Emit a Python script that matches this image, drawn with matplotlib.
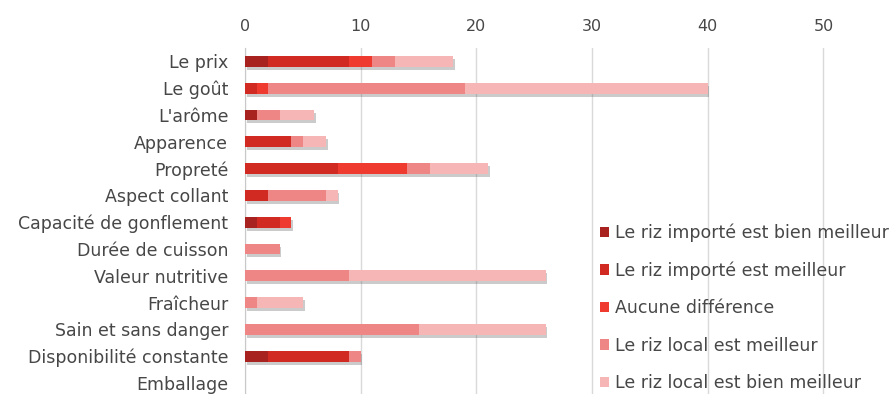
import numpy as np
import matplotlib.pyplot as plt
import matplotlib.patheffects as pe

plt.rcParams['font.family'] = ['DejaVu Sans']

criteres = ['Le prix', 'Le goût', "L'arôme", 'Apparence', 'Propreté', 'Aspect collant',
            'Capacité de gonflement', 'Durée de cuisson', 'Valeur nutritive', 'Fraîcheur',
            'Sain et sans danger', 'Disponibilité constante', 'Emballage']

importe_bien_meilleur = [2, 0, 1, 0, 0, 0, 1, 0, 0, 0, 0, 2, 0]
importe_meilleur      = [7, 1, 0, 4, 8, 2, 2, 0, 0, 0, 0, 7, 0]
aucune_difference     = [2, 1, 0, 0, 6, 0, 1, 0, 0, 0, 0, 0, 0]
local_meilleur        = [2, 17, 2, 1, 2, 5, 0, 3, 9, 1, 15, 1, 0]
local_bien_meilleur   = [5, 21, 3, 2, 5, 1, 0, 0, 17, 4, 11, 0, 0]

series = [importe_bien_meilleur, importe_meilleur, aucune_difference,
          local_meilleur, local_bien_meilleur]
noms = ['Le riz importé est bien meilleur', 'Le riz importé est meilleur',
        'Aucune différence', 'Le riz local est meilleur', 'Le riz local est bien meilleur']
couleurs = ['#a82220', '#d02a22', '#ee3a2f', '#ee8686', '#f6b6b6']
gris = '#474747'

fig = plt.figure(figsize=(8.9, 3.94), dpi=100)
ax = fig.add_axes([245 / 890, -0.006, 1 - 245 / 890, (394 - 48) / 394 + 0.006])

y = np.arange(len(criteres))
left = np.zeros(len(criteres))
ombre = [pe.SimplePatchShadow(offset=(1.2, -2.2), shadow_rgbFace='#555555', alpha=0.3), pe.Normal()]
for vals, nom, c in zip(series, noms, couleurs):
    vals = np.array(vals, dtype=float)
    bars = ax.barh(y, vals, left=left, height=0.4, color=c, label=nom, zorder=3)
    for b in bars:
        if b.get_width() > 0:
            b.set_path_effects(ombre)
    left += vals

ax.set_ylim(len(criteres) - 0.5, -0.5)
ax.set_xlim(0, 55.75)
ax.set_xticks([0, 10, 20, 30, 40, 50])
ax.xaxis.tick_top()
ax.tick_params(axis='x', length=0, pad=10, labelsize=11.5, labelcolor=gris)
ax.tick_params(axis='y', length=0, pad=12, labelsize=12.5, labelcolor=gris)
ax.set_yticks(y)
ax.set_yticklabels(criteres)
ax.grid(axis='x', color='#d9d9d9', lw=1, zorder=0)
for s in ['top', 'right', 'bottom']:
    ax.spines[s].set_visible(False)
ax.spines['left'].set_color('#c8c8c8')

leg = fig.legend(loc='upper left', bbox_to_anchor=(0.664, 0.455), frameon=False,
                 fontsize=12.5, handlelength=0.55, handleheight=0.55, handletextpad=0.35,
                 labelspacing=1.12, borderpad=0)
for h in leg.legend_handles:
    h.set_path_effects([])
for t in leg.get_texts():
    t.set_color(gris)

fig.savefig('out.png', dpi=100)
